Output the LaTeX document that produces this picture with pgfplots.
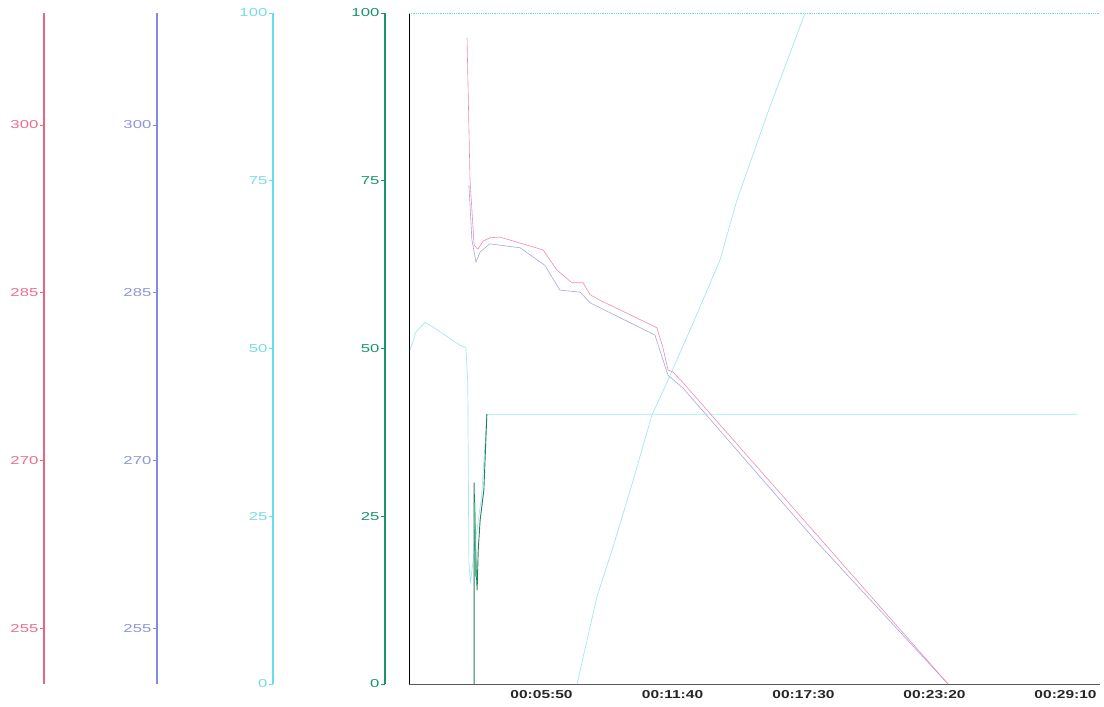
\documentclass[border=0pt]{standalone}
\usepackage{fontspec}
\setmainfont{Liberation Sans}
\newfontfamily\lab[FakeStretch=1.45]{Liberation Sans}
\newfontfamily\xlab[FakeStretch=1.35]{Liberation Sans}
\usepackage{pgfplots}
\pgfplotsset{compat=1.18}
\definecolor{cRed}{RGB}{236,100,132}
\definecolor{cRedL}{RGB}{240,110,140}
\definecolor{cBlue}{RGB}{128,140,226}
\definecolor{cBlueL}{RGB}{140,150,220}
\definecolor{cCyan}{RGB}{100,222,234}
\definecolor{cCyanL}{RGB}{120,220,232}
\definecolor{cGreen}{RGB}{25,150,105}
\definecolor{lRed}{RGB}{240,140,175}
\definecolor{lBlue}{RGB}{165,165,232}
\definecolor{lCyan}{RGB}{165,230,240}
\definecolor{lGreen}{RGB}{30,130,90}
\begin{document}
\begin{tikzpicture}
\path[use as bounding box] (0,0) rectangle (1104pt,707pt);
\pgfplotsset{sideax/.style={scale only axis, width=1pt, height=671pt, anchor=south west,
  xmin=0, xmax=1, axis x line=none, axis y line=left, tick align=outside,
  major tick length=4pt, /pgf/number format/assume math mode=true,
  yticklabel style={font=\fontsize{11.5}{12}\lab, inner sep=1.5pt}}}
% red axis
\begin{axis}[sideax, at={(44pt,23pt)}, ymin=250, ymax=310, ytick={255,270,285,300},
  y axis line style={-, draw=cRed, line width=1.2pt}, ytick style={draw=cRed, line width=0.6pt},
  yticklabel style={text=cRedL}]
\end{axis}
% blue axis
\begin{axis}[sideax, at={(157pt,23pt)}, ymin=250, ymax=310, ytick={255,270,285,300},
  y axis line style={-, draw=cBlue, line width=1.2pt}, ytick style={draw=cBlue, line width=0.6pt},
  yticklabel style={text=cBlueL}]
\end{axis}
% cyan axis
\begin{axis}[sideax, at={(273pt,23pt)}, ymin=0, ymax=100, ytick={0,25,50,75,100},
  y axis line style={-, draw=cCyan, line width=1.2pt}, ytick style={draw=cCyan, line width=0.6pt},
  yticklabel style={text=cCyanL}]
\end{axis}
% green axis
\begin{axis}[sideax, at={(385pt,23pt)}, ymin=0, ymax=100, ytick={0,25,50,75,100},
  y axis line style={-, draw=cGreen, line width=1.3pt}, ytick style={draw=cGreen, line width=0.6pt},
  yticklabel style={text=cGreen}]
\end{axis}
% main plot
\begin{axis}[scale only axis, width=691pt, height=671pt, at={(409pt,23pt)}, anchor=south west,
  xmin=-4, xmax=1842, ymin=0, ymax=100, clip=false,
  axis x line=bottom, axis y line=left,
  x axis line style={-, draw=black!65, line width=0.9pt},
  y axis line style={-, draw=black, line width=1pt},
  ytick=\empty, xtick={350,700,1050,1400,1750},
  xticklabels={00:05:50,00:11:40,00:17:30,00:23:20,00:29:10},
  major tick length=0pt,
  xticklabel style={font=\fontsize{11.5}{12}\xlab\bfseries, text=black!85, yshift=-3pt}]
% top dotted cyan line at 100
\addplot[cCyan, line width=0.8pt, densely dotted] coordinates {(-4,100) (1842,100)};
% cyan series A
\addplot[lCyan, line width=0.7pt] coordinates {
(-1,49.8) (15,52.5) (39,53.9) (60,53.2) (92,52.0) (132,50.5) (148,50.1)
(153,45) (156,18) (160,15) (175,22) (190,28) (204,40.2) (1782,40.2)};
% cyan rising series B
\addplot[lCyan, line width=0.7pt] coordinates {
(445,0) (498,13) (541,20.4) (595,30.4) (645,40.1) (685,44.9) (755,53.8)
(827,63.2) (872,72.1) (960,86) (1054,100)};
% blue series
\addplot[lBlue, line width=0.6pt] coordinates {
(156,74.4) (164,66.2) (175,62.9) (186,64.4) (212,65.6) (293,65.0) (359,62.4)
(399,58.7) (453,58.4) (480,56.8) (653,52.0) (688,46.0) (728,44.1) (1080,21.5) (1436,0)};
% red series
\addplot[lRed, line width=0.6pt] coordinates {
(151,96.3) (159,75.1) (170,65.4) (180,64.8) (194,66.0) (212,66.5) (239,66.6)
(354,64.7) (391,61.7) (431,59.8) (461,59.8) (480,58.0) (506,57.2) (658,53.1)
(674,50.2) (688,46.8) (701,46.5) (728,44.9) (1436,0)};
% green series
\addplot[lGreen, line width=0.9pt] coordinates {
(170,0) (170,30) (172,22) (178,14) (181,20) (186,24.4) (196,28.9) (204,40.2)};
\addplot[cGreen!70, line width=1.6pt] coordinates {(171,27) (175,16)};
\end{axis}
\end{tikzpicture}
\end{document}
